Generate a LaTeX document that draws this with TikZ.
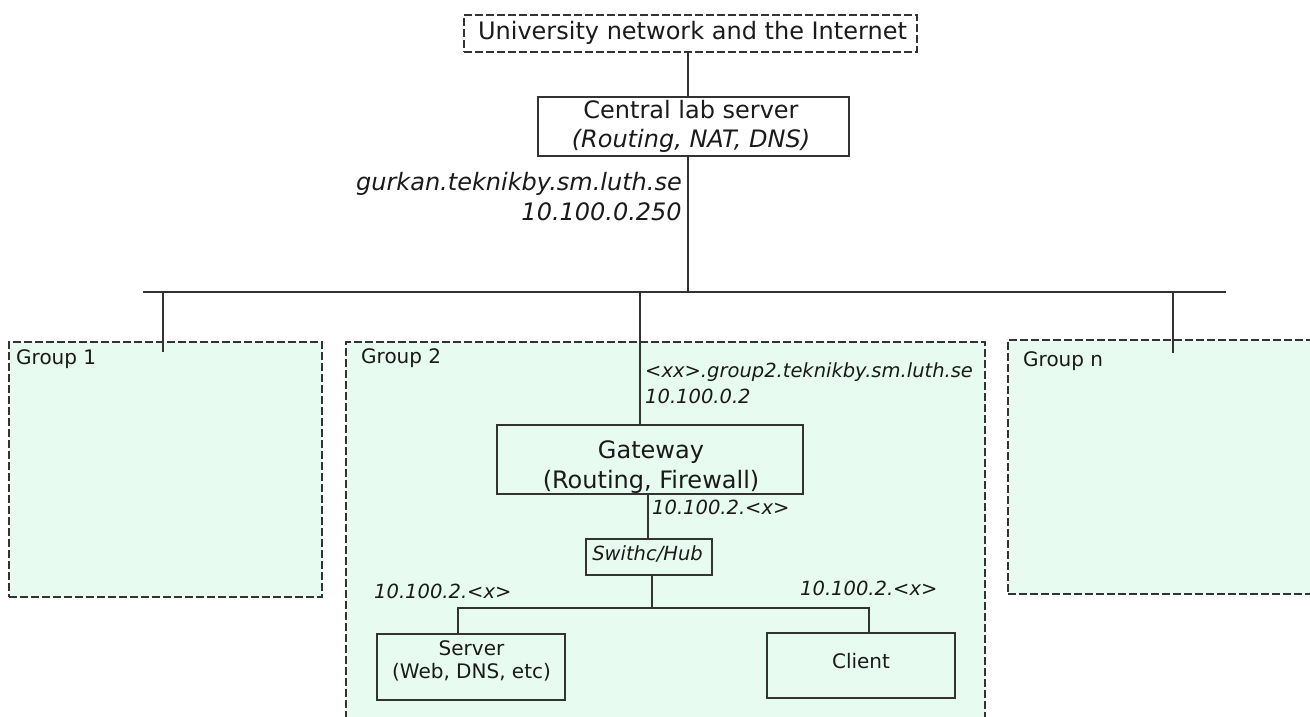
\documentclass[tikz,border=0pt]{standalone}
\usepackage{fontspec}
\setmainfont{DejaVu Sans}
\definecolor{grpfill}{HTML}{E8FBF0}
\definecolor{ln}{HTML}{333333}
\definecolor{tx}{HTML}{1A1A1A}
\begin{document}
\begin{tikzpicture}[x=1pt,y=-1pt,
  boxst/.style={draw=ln, line width=1.6pt, rectangle, inner sep=0pt},
  grp/.style={draw=ln, line width=1.6pt, fill=grpfill, dash pattern=on 8pt off 3pt, rectangle, inner sep=0pt},
  wire/.style={draw=ln, line width=1.5pt},
  big/.style={font=\fontsize{24}{29}\selectfont, text=tx, inner sep=0pt},
  med/.style={font=\fontsize{20}{24}\selectfont, text=tx, inner sep=0pt},
  lbl/.style={font=\fontsize{19.5}{23}\selectfont\itshape, text=tx, inner sep=0pt}]
\useasboundingbox (0,0) rectangle (1310,717);
% groups
\node[grp, minimum width=313pt, minimum height=255pt] (g1) at (165.5,469.5) {};
\node[grp, minimum width=639pt, minimum height=388pt] (g2) at (665.5,536) {};
\node[grp, minimum width=312pt, minimum height=254pt] (gn) at (1164,467) {};
% boxes
\node[boxst, dash pattern=on 8pt off 3pt, minimum width=453pt, minimum height=37pt] (inet) at (690.5,33.5) {};
\node[boxst, minimum width=311pt, minimum height=59pt] (cs) at (693.5,126.5) {};
\node[boxst, minimum width=306pt, minimum height=69pt] (gw) at (650,459.5) {};
\node[boxst, minimum width=126pt, minimum height=36pt] (sw) at (649,557) {};
\node[boxst, minimum width=188pt, minimum height=66pt] (srv) at (471,667) {};
\node[boxst, minimum width=188pt, minimum height=65pt] (cli) at (861,665.5) {};
% coordinates
\coordinate (tap0) at (688,292);
\coordinate (busL) at (143,292);
\coordinate (busR) at (1226,292);
\coordinate (tap1) at (163,292);
\coordinate (tap2) at (640,292);
\coordinate (tapn) at (1173,292);
\coordinate (end1) at (163,352);
\coordinate (endn) at (1173,353);
\coordinate (gwx) at (648,500);
\coordinate (hub) at (652,608);
\coordinate (hubL) at (458,608);
\coordinate (hubR) at (869,608);
% wires
\draw[wire] (inet.south -| tap0) -- (cs.north -| tap0);
\draw[wire] (cs.south -| tap0) -- (tap0);
\draw[wire] (busL) -- (busR);
\draw[wire] (tap1) -- (end1);
\draw[wire] (tapn) -- (endn);
\draw[wire] (tap2) -- (gw.north -| tap2);
\draw[wire] (gw.south -| gwx) -- (sw.north -| gwx);
\draw[wire] (sw.south -| hub) -- (hub);
\draw[wire] (srv.north -| hubL) -- (hubL) -- (hubR) -- (cli.north -| hubR);
% texts
\node[big, anchor=base] (tInet) at (692.5,40) {University network and the Internet};
\node[big, anchor=base] (tCs1) at (691,118) {Central lab server};
\node[big, anchor=base] (tCs2) at (691,147) {\itshape (Routing, NAT, DNS)};
\node[big, anchor=base east] (tHost) at (682,190) {\itshape gurkan.teknikby.sm.luth.se};
\node[big, anchor=base east] (tIp) at (682,220) {\itshape 10.100.0.250};
\node[med, anchor=base west] (tG1) at (16,364) {Group 1};
\node[med, anchor=base west] (tG2) at (361,363) {Group 2};
\node[med, anchor=base west] (tGn) at (1023,366) {Group n};
\node[lbl, anchor=base west] (tG2host) at (645,377) {<xx>.group2.teknikby.sm.luth.se};
\node[lbl, anchor=base west] (tG2ip) at (645,403) {10.100.0.2};
\node[big, anchor=base] (tGw1) at (651,458) {Gateway};
\node[big, anchor=base] (tGw2) at (651,488) {(Routing, Firewall)};
\node[lbl, anchor=base west] (tGwip) at (652,514) {10.100.2.<x>};
\node[lbl, anchor=base] (tSw) at (647.5,560) {Swithc/Hub};
\node[lbl, anchor=base west] (tSrvip) at (374,598) {10.100.2.<x>};
\node[lbl, anchor=base west] (tCliip) at (800,595) {10.100.2.<x>};
\node[med, anchor=base] (tSrv1) at (471.5,655) {Server};
\node[med, anchor=base] (tSrv2) at (471.5,678) {(Web, DNS, etc)};
\node[med, anchor=base] (tCli) at (861,668) {Client};
\end{tikzpicture}
\end{document}
